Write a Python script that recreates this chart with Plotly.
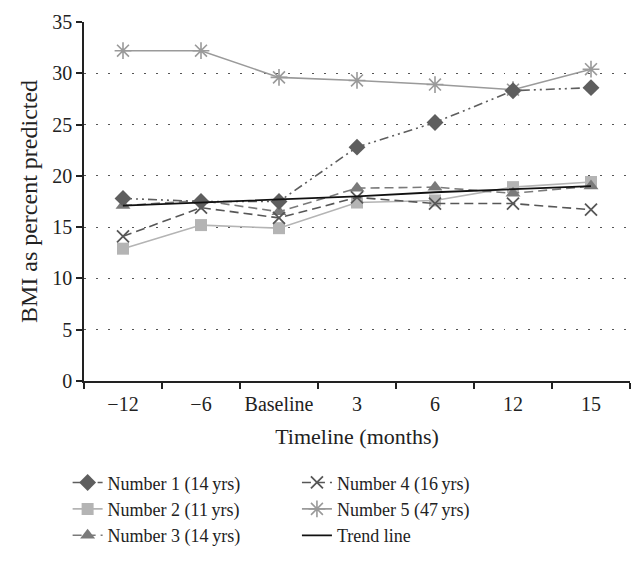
import plotly.graph_objects as go

categories = ["\u221212", "\u22126", "Baseline", "3", "6", "12", "15"]
num1 = [17.8, 17.5, 17.5, 22.8, 25.2, 28.3, 28.6]
num2 = [12.9, 15.2, 14.9, 17.4, 17.6, 18.9, 19.4]
num3 = [17.1, 17.6, 16.5, 18.8, 18.9, 18.3, 19.0]
num4 = [14.1, 16.9, 15.9, 17.9, 17.3, 17.3, 16.7]
num5 = [32.2, 32.2, 29.6, 29.3, 28.9, 28.4, 30.4]
trend = [17.1, 17.4, 17.7, 18.0, 18.4, 18.7, 19.0]

names = ["Number 1 (14\u2009yrs)", "Number 2 (11\u2009yrs)", "Number 3 (14\u2009yrs)",
         "Number 4 (16\u2009yrs)", "Number 5 (47\u2009yrs)", "Trend line"]

FONT = "Liberation Serif"
fig = go.Figure()

fig.add_trace(go.Scatter(x=categories, y=num5, name=names[4], mode="lines+markers",
                         line=dict(color="#9a9a9a", width=1.6),
                         marker=dict(symbol="asterisk-open", size=14,
                                     line=dict(color="#9a9a9a", width=1.6)),
                         legend="legend2", legendrank=2))
fig.add_trace(go.Scatter(x=categories, y=num2, name=names[1], mode="lines+markers",
                         line=dict(color="#b4b4b4", width=1.6),
                         marker=dict(symbol="square", size=12, color="#b4b4b4"),
                         legend="legend", legendrank=2))
fig.add_trace(go.Scatter(x=categories, y=num3, name=names[2], mode="lines+markers",
                         line=dict(color="#7a7a7a", width=1.6, dash="9px,5px"),
                         marker=dict(symbol="triangle-up", size=13, color="#7a7a7a"),
                         legend="legend", legendrank=3))
fig.add_trace(go.Scatter(x=categories, y=num4, name=names[3], mode="lines+markers",
                         line=dict(color="#575757", width=1.6, dash="9px,5px"),
                         marker=dict(symbol="x-thin-open", size=12,
                                     line=dict(color="#575757", width=1.8)),
                         legend="legend2", legendrank=1))
fig.add_trace(go.Scatter(x=categories, y=num1, name=names[0], mode="lines+markers",
                         line=dict(color="#5e5e5e", width=1.6, dash="9px,4px,2px,4px,2px,4px"),
                         marker=dict(symbol="diamond", size=13, color="#5e5e5e"),
                         legend="legend", legendrank=1))
fig.add_trace(go.Scatter(x=categories, y=trend, name=names[5], mode="lines",
                         line=dict(color="#111111", width=1.8),
                         legend="legend2", legendrank=3))

legend_common = dict(font=dict(family=FONT, size=18, color="#222222"),
                     bgcolor="rgba(0,0,0,0)", tracegroupgap=0,
                     orientation="v", yanchor="top", xanchor="left",
                     itemwidth=30, traceorder="normal")

fig.update_layout(
    width=644, height=563,
    margin=dict(l=84, r=14, t=22, b=182, autoexpand=False),
    paper_bgcolor="white", plot_bgcolor="white",
    font=dict(family=FONT, size=20, color="#222222"),
    legend=dict(x=-0.03, y=-0.232, **legend_common),
    legend2=dict(x=0.39, y=-0.232, **legend_common),
    xaxis=dict(
        type="category",
        showline=True, linecolor="#222222", linewidth=1.5,
        ticks="outside", ticklen=6, tickcolor="#222222", tickwidth=1.5,
        tickson="boundaries", ticklabelstandoff=4, tickangle=0,
        showgrid=False, zeroline=False,
        tickfont=dict(family=FONT, size=20, color="#222222"),
        title=dict(text="Timeline (months)", font=dict(family=FONT, size=22, color="#222222"), standoff=15),
        range=[-0.5, 6.5],
    ),
    yaxis=dict(
        range=[0, 35], dtick=5, tick0=0,
        showline=True, linecolor="#222222", linewidth=1.5,
        ticks="outside", ticklen=6, tickcolor="#222222", tickwidth=1.5,
        showgrid=True, gridcolor="#555555", gridwidth=1.2, griddash="1.5px,10.5px",
        zeroline=False,
        tickfont=dict(family=FONT, size=20, color="#222222"),
        title=dict(text="BMI as percent predicted", font=dict(family=FONT, size=24, color="#222222"), standoff=8),
    ),
)

fig.write_html("out.html")
